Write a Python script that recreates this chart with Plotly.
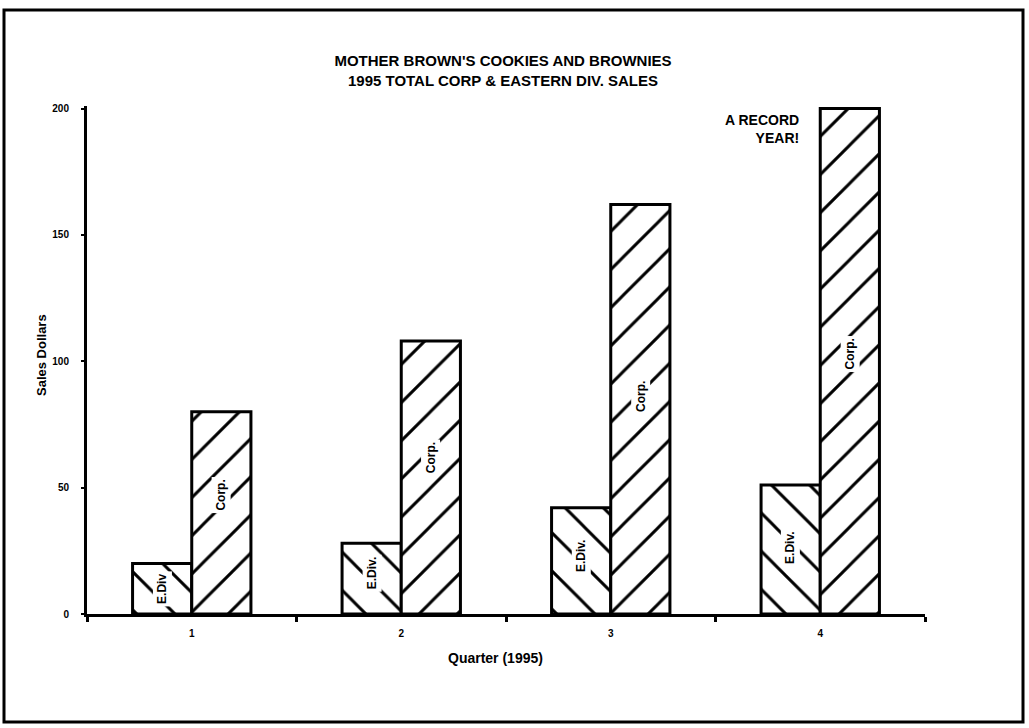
import plotly.graph_objects as go

# Quarterly sales, 1995
quarters = ["1", "2", "3", "4"]
ediv_sales = [20, 28, 42, 51]
corp_sales = [80, 108, 162, 200]
ediv_labels = ["E.Div", "E.Div.", "E.Div.", "E.Div."]
corp_labels = ["Corp.", "Corp.", "Corp.", "Corp."]
y_ticks = [0, 50, 100, 150, 200]

# heights (in sales units) at which the rotated bar captions sit
ediv_label_y = [10, 16, 23, 26]
corp_label_y = [47, 62, 86, 103]

W, H = 1029, 728
ML, MR, MT, MB = 87, 104, 106, 114
FONT = "Liberation Sans"
plot_w = W - ML - MR
plot_h = H - MT - MB
BARGAP = 0.435

fig = go.Figure()
fig.add_trace(go.Bar(
    x=quarters, y=ediv_sales, name="E.Div",
    marker=dict(color="white", line=dict(color="black", width=3),
                pattern=dict(shape="\\", size=27, solidity=0.11, fgopacity=1,
                             fgcolor="black", bgcolor="white")),
    hoverinfo="skip",
))
fig.add_trace(go.Bar(
    x=quarters, y=corp_sales, name="Corp.",
    marker=dict(color="white", line=dict(color="black", width=3),
                pattern=dict(shape="/", size=27, solidity=0.11, fgopacity=1,
                             fgcolor="black", bgcolor="white")),
    hoverinfo="skip",
))

bar_px = plot_w / len(quarters) * (1 - BARGAP) / 2
label_font = dict(family=FONT, size=12, color="black", weight="bold")
annotations = []
for i, (lab, yv) in enumerate(zip(ediv_labels, ediv_label_y)):
    annotations.append(dict(x=i, y=yv, xref="x", yref="y", text=lab, textangle=-90,
                            showarrow=False, xshift=-bar_px / 2, font=label_font,
                            bgcolor="white", borderpad=2))
for i, (lab, yv) in enumerate(zip(corp_labels, corp_label_y)):
    annotations.append(dict(x=i, y=yv, xref="x", yref="y", text=lab, textangle=-90,
                            showarrow=False, xshift=bar_px / 2, font=label_font,
                            bgcolor="white", borderpad=2))

annotations.append(dict(x=(801 - ML) / plot_w, y=192, xref="paper", yref="y",
                        text="A RECORD<br>YEAR!", showarrow=False, align="right",
                        xanchor="right", yanchor="middle",
                        font=dict(family=FONT, size=14, color="black", weight="bold")))
annotations.append(dict(x=(41 - ML) / plot_w, y=(H - MB - 355) / plot_h, xref="paper", yref="paper",
                        text="Sales Dollars", textangle=-90, showarrow=False,
                        xanchor="center", yanchor="middle",
                        font=dict(family=FONT, size=13, color="black", weight="bold")))
annotations.append(dict(x=(495 - ML) / plot_w, y=-(658 - (H - MB)) / plot_h, xref="paper", yref="paper",
                        text="Quarter (1995)", showarrow=False,
                        xanchor="center", yanchor="middle",
                        font=dict(family=FONT, size=14, color="black", weight="bold")))

# outer frame around the whole chart
frame = dict(type="rect", xref="paper", yref="paper",
             x0=(4 - ML) / plot_w, x1=(1023 - ML) / plot_w,
             y0=-(722 - (H - MB)) / plot_h, y1=1 + (MT - 10) / plot_h,
             line=dict(color="black", width=3), fillcolor="rgba(0,0,0,0)", layer="below")

fig.update_layout(
    width=W, height=H,
    margin=dict(l=ML, r=MR, t=MT, b=MB, pad=0),
    paper_bgcolor="white", plot_bgcolor="white",
    barmode="group", bargap=BARGAP, bargroupgap=0,
    showlegend=False,
    title=dict(text="MOTHER BROWN'S COOKIES AND BROWNIES<br>1995 TOTAL CORP & EASTERN DIV. SALES",
               x=503 / W, xanchor="center", y=1 - 66 / H, yanchor="top",
               font=dict(family=FONT, size=15, color="black", weight="bold")),
    font=dict(family=FONT, color="black"),
    annotations=annotations,
    shapes=[frame],
    xaxis=dict(type="category", range=[-0.5, len(quarters) - 0.5],
               showline=True, linecolor="black", linewidth=3,
               ticks="outside", tickson="boundaries", ticklen=5, tickwidth=3, tickcolor="black",
               showgrid=False, zeroline=False, ticklabelstandoff=8,
               tickfont=dict(family=FONT, size=10, color="black", weight="bold")),
    yaxis=dict(range=[0, 201], showline=True, linecolor="black", linewidth=3,
               tickvals=y_ticks, ticks="outside", ticklen=3, tickwidth=2, tickcolor="black",
               showgrid=False, zeroline=False, ticklabelstandoff=10,
               tickfont=dict(family=FONT, size=10, color="black", weight="bold")),
)

fig.write_html("out.html")
